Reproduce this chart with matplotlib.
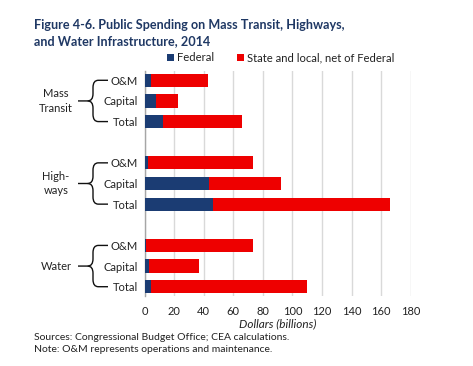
import matplotlib
matplotlib.use("Agg")
import matplotlib.pyplot as plt
from matplotlib.path import Path
from matplotlib.patches import PathPatch, Rectangle
import matplotlib.transforms as mtransforms

plt.rcParams['font.family'] = ['Lato', 'DejaVu Sans']

groups = ["Mass\nTransit", "High-\nways", "Water"]
items = ["O&M", "Capital", "Total"]
federal = [[4.3, 7.7, 12.3], [2.5, 43.4, 46.4], [0.7, 3.2, 4.1]]
total = [[43.0, 22.7, 65.7], [73.2, 92.5, 165.9], [73.0, 36.6, 109.8]]
xticks = [0, 20, 40, 60, 80, 100, 120, 140, 160, 180]
series_names = ["Federal", "State and local, net of Federal"]

BLUE = "#1B3C73"
RED = "#EE0000"
TITLE = "#1F3864"
TXT = "#222222"

fig = plt.figure(figsize=(4.73, 3.66), dpi=100)
W, H = 473, 366
left, right, top, bottom = 144.7, 410.7, 71, 296
ax = fig.add_axes([left / W, 1 - bottom / H, (right - left) / W, (bottom - top) / H])

ypos, labels = [], []
for g in range(len(groups)):
    for i in range(len(items)):
        ypos.append(g * 4 + i)
        labels.append(items[i])
fed_flat = [v for row in federal for v in row]
tot_flat = [v for row in total for v in row]
state_flat = [t - f for t, f in zip(tot_flat, fed_flat)]

ax.barh(ypos, fed_flat, height=0.64, color=BLUE, zorder=3, label=series_names[0])
ax.barh(ypos, state_flat, left=fed_flat, height=0.64, color=RED, zorder=3, label=series_names[1])

ax.set_xlim(0, 180)
ax.set_ylim(10.45, -0.45)
ax.set_xticks(xticks)
ax.set_yticks(ypos)
ax.set_yticklabels(labels)
ax.tick_params(axis='both', length=0, labelsize=8, colors=TXT)
ax.tick_params(axis='y', pad=5)
ax.tick_params(axis='x', pad=7)
for s in ["top", "right", "bottom"]:
    ax.spines[s].set_visible(False)
ax.spines["left"].set_color("#A6A6A6")
ax.spines["left"].set_linewidth(1.0)
ax.grid(axis='x', color="#D9D9D9", linewidth=1.0, zorder=0)
ax.set_axisbelow(True)
ax.set_xlabel("Dollars (billions)", fontsize=8.5, style='italic', color=TXT, labelpad=1)

# braces and group labels
trans = mtransforms.blended_transform_factory(ax.transAxes, ax.transData)
span = right - left
def ax_x(px):
    return (px - left) / span

for g, name in enumerate(groups):
    y0 = g * 4
    y1 = g * 4 + 2
    ym = g * 4 + 1
    xs = ax_x(93)
    xe = ax_x(108)
    xt = ax_x(78)
    c = 0.35
    d = 0.02
    top_half = Path([(xe, y0), (xs + d, y0), (xs, y0), (xs, y0 + c),
                     (xs, ym - c), (xs, ym), (xs - d, ym), (xt, ym)],
                    [Path.MOVETO, Path.LINETO, Path.CURVE3, Path.CURVE3,
                     Path.LINETO, Path.CURVE3, Path.CURVE3, Path.LINETO])
    bot_half = Path([(xe, y1), (xs + d, y1), (xs, y1), (xs, y1 - c),
                     (xs, ym + c), (xs, ym), (xs - d, ym)],
                    [Path.MOVETO, Path.LINETO, Path.CURVE3, Path.CURVE3,
                     Path.LINETO, Path.CURVE3, Path.CURVE3])
    for p in (top_half, bot_half):
        ax.add_patch(PathPatch(p, transform=trans, facecolor='none',
                               edgecolor="#111111", linewidth=1.0, clip_on=False))
    ax.text(ax_x(56), ym, name, transform=trans, ha='center', va='center',
            fontsize=8, color=TXT, linespacing=1.35)

fig.text(34 / W, 1 - 29 / H, "Figure 4-6. Public Spending on Mass Transit, Highways,",
         fontsize=9.1, fontweight='bold', color=TITLE, va='baseline', ha='left')
fig.text(34 / W, 1 - 45 / H, "and Water Infrastructure, 2014",
         fontsize=9.1, fontweight='bold', color=TITLE, va='baseline', ha='left')

# legend (manual placement)
for x0, col, name in [(167.3, BLUE, series_names[0]), (237.3, RED, series_names[1])]:
    fig.add_artist(Rectangle((x0 / W, 1 - 61 / H), 7 / W, 7 / H, transform=fig.transFigure,
                             facecolor=col, edgecolor='none'))
    fig.text((x0 + 10) / W, 1 - 57.5 / H, name, fontsize=8.1, color=TXT, va='center', ha='left')

fig.text(34 / W, 1 - 337 / H, "Sources: Congressional Budget Office; CEA calculations.",
         fontsize=7.5, color=TXT, va='center')
fig.text(34 / W, 1 - 350 / H, "Note: O&M represents operations and maintenance.",
         fontsize=7.5, color=TXT, va='center')

fig.savefig("out.png", dpi=100)
